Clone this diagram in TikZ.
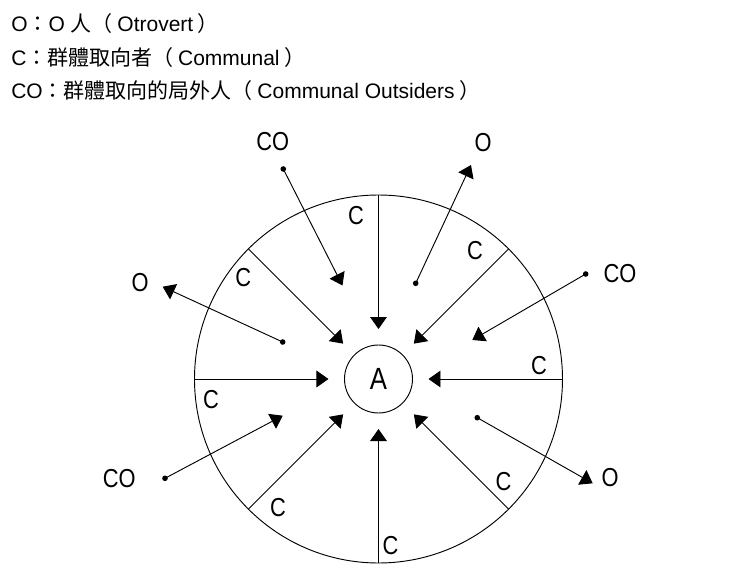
\documentclass[tikz,border=0pt]{standalone}
\usepackage{fontspec}
\setmainfont{Liberation Sans}
\newfontfamily\cjk{Noto Sans CJK TC}
\newfontfamily\labelfont[FakeStretch=0.84]{Liberation Sans}
\newcommand{\lp}{{\cjk （}\hspace{3.5pt}}
\newcommand{\rp}{\hspace{3.5pt}{\cjk ）}}
\usetikzlibrary{arrows.meta}

\begin{document}
\begin{tikzpicture}[x=0.75pt, y=0.75pt]
    \tikzstyle{spoke} = [line width=0.7pt, -{Triangle[length=9pt, width=12.5pt]}, shorten >=12pt]
    \tikzstyle{link} = [line width=0.7pt, -{Triangle[length=9pt, width=12.5pt]}]
    \tikzstyle{tag} = [inner sep=0, font=\labelfont\fontsize{19.5pt}{21pt}\selectfont]
    \tikzstyle{key} = [anchor=base west, inner sep=0, font=\fontsize{15.75pt}{18pt}\selectfont]
    \useasboundingbox (-378.5, -204) rectangle (361.5, 379);

    % legend
    \node[key] (keyO) at (-367.5, 348) {O{\cjk ：}O {\cjk 人}\lp Otrovert\rp};
    \node[key] (keyC) at (-367.5, 313.7) {C{\cjk ：群體取向者}\lp Communal\rp};
    \node[key] (keyCO) at (-367.5, 280.3) {CO{\cjk ：群體取向的局外人}\lp Communal Outsiders\rp};

    % rings
    \node[draw, circle, line width=0.7pt, minimum size=276pt, inner sep=0, outer sep=0] (ring) at (0, 0) {};
    \node[draw, circle, line width=0.7pt, minimum size=51pt, inner sep=0, outer sep=0,
          font=\labelfont\fontsize{23pt}{24pt}\selectfont] (A) at (0, 0) {A};

    % communal spokes
    \draw[spoke] (ring.90) -- (A.90);
    \draw[spoke] (ring.45) -- (A.45);
    \draw[spoke] (ring.0) -- (A.0);
    \draw[spoke] (ring.-45) -- (A.-45);
    \draw[spoke] (ring.-90) -- (A.-90);
    \draw[spoke] (ring.-135) -- (A.-135);
    \draw[spoke] (ring.180) -- (A.180);
    \draw[spoke] (ring.135) -- (A.135);
    \node[tag] (c1) at (-22.5, 163) {C};
    \node[tag] (c2) at (96.5, 128) {C};
    \node[tag] (c3) at (160.5, 13) {C};
    \node[tag] (c4) at (125, -103) {C};
    \node[tag] (c5) at (12, -167) {C};
    \node[tag] (c6) at (-100.5, -129) {C};
    \node[tag] (c7) at (-167.5, -21) {C};
    \node[tag] (c8) at (-135.2, 101.5) {C};

    % outsiders coming in
    \coordinate (in1) at (-95.2, 210);
    \coordinate (in1t) at (-36, 93.5);
    \coordinate (in2) at (207.2, 105);
    \coordinate (in2t) at (93.8, 39);
    \coordinate (in3) at (-213.5, -99.3);
    \coordinate (in3t) at (-95.8, -36.7);
    \draw[link] (in1) -- (in1t);
    \draw[link] (in2) -- (in2t);
    \draw[link] (in3) -- (in3t);
    \fill (in1) circle[radius=2.8];
    \fill (in2) circle[radius=2.8];
    \fill (in3) circle[radius=2.8];
    \node[tag] (co1) at (-105.7, 237.3) {CO};
    \node[tag] (co2) at (241.5, 105.7) {CO};
    \node[tag] (co3) at (-259.2, -99.3) {CO};

    % others going out
    \coordinate (out1) at (37.2, 95.7);
    \coordinate (out1t) at (92.5, 214);
    \coordinate (out2) at (98.8, -38.7);
    \coordinate (out2t) at (214.2, -104.3);
    \coordinate (out3) at (-95.8, 37);
    \coordinate (out3t) at (-215.8, 92.3);
    \draw[link] (out1) -- (out1t);
    \draw[link] (out2) -- (out2t);
    \draw[link] (out3) -- (out3t);
    \fill (out1) circle[radius=2.8];
    \fill (out2) circle[radius=2.8];
    \fill (out3) circle[radius=2.8];
    \node[tag] (o1) at (104.5, 236) {O};
    \node[tag] (o2) at (231.5, -98.7) {O};
    \node[tag] (o3) at (-238.5, 96) {O};
\end{tikzpicture}
\end{document}
